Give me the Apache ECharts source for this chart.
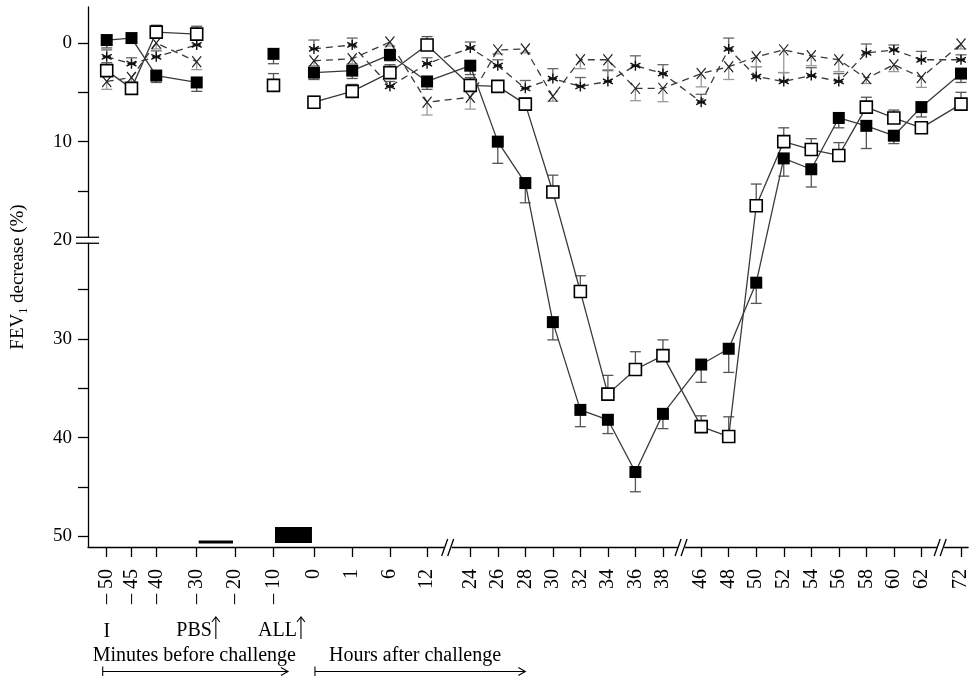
<!DOCTYPE html>
<html>
<head>
<meta charset="utf-8">
<script src="https://cdn.jsdelivr.net/npm/echarts@6/dist/echarts.min.js"></script>
<style>
  html, body { margin: 0; padding: 0; background: #fff; }
  #chart { width: 971px; height: 676px; }
</style>
</head>
<body>
<div id="chart"></div>
<script>
// time points: minutes before challenge (negative), then hours after challenge
const times = ['-50', '-45', '-40', '-30', '-20', '-10', '0', '1', '6', '12', '24', '26', '28', '30',
  '32', '34', '36', '38', '46', '48', '50', '52', '54', '56', '58', '60', '62', '72'];

// FEV1 decrease (%) per group, null = not measured
const filledSq  = [-0.3, -0.5, 3.3, 4.0, null, 1.1, 3.0, 2.8, 1.2, 3.9, 2.3, 10.0, 14.2, 28.3,
  37.2, 38.2, 43.5, 37.6, 32.6, 31.0, 24.3, 11.7, 12.8, 7.6, 8.4, 9.4, 6.5, 3.1];
const filledErr = [0.8, 0.5, 0.7, 0.9, null, 1.0, 0.7, 0.8, 0.6, 0.8, 0.9, 2.2, 2.0, 1.8,
  1.7, 1.4, 2.0, 1.5, 1.8, 2.4, 2.1, 1.8, 1.8, 1.0, 2.3, 0.8, 1.0, 0.9];

const openSq  = [2.8, 4.6, -1.1, -0.9, null, 4.3, 6.0, 4.9, 3.0, 0.2, 4.3, 4.4, 6.2, 15.1,
  25.2, 35.6, 33.1, 31.7, 38.9, 39.9, 16.5, 10.0, 10.8, 11.4, 6.5, 7.6, 8.6, 6.2];
const openErr = [0.8, 0.5, 0.7, 0.8, null, 1.2, 0.6, 0.7, 0.8, 0.85, 0.8, 0.5, 0.6, 1.7,
  1.6, 1.9, 1.8, 1.6, 1.1, 2.0, 2.2, 1.4, 1.1, 1.3, 1.0, 0.8, 0.6, 1.2];

const stars   = [1.4, 2.1, 1.4, 0.2, null, null, 0.6, 0.2, 4.4, 2.1, 0.5, 2.3, 4.6, 3.6,
  4.4, 3.9, 2.3, 3.1, 6.0, 0.6, 3.4, 3.9, 3.3, 3.9, 1.0, 0.7, 1.7, 1.7];
const starErr = [0.7, 0.6, 0.6, 0.6, null, null, 0.9, 0.7, 0.5, 0.6, 0.6, 0.6, 0.8, 1.0,
  0.9, 1.1, 1.0, 0.9, 0.8, 1.1, 1.0, 0.9, 0.8, 0.8, 0.9, 0.5, 0.85, 0.5];

const crosses  = [3.9, 3.5, 0.0, 1.9, null, null, 1.8, 1.6, -0.1, 6.0, 5.5, 0.7, 0.6, 5.4,
  1.7, 1.7, 4.6, 4.6, 3.1, 2.4, 1.4, 0.7, 1.3, 1.7, 3.6, 2.2, 3.5, 0.1];
const crossErr = [0.8, 0.5, 0.6, 0.8, null, null, 0.5, 0.5, 0.4, 1.3, 1.2, 0.4, 0.4, 0.5,
  0.9, 1.0, 1.25, 1.35, 1.35, 1.3, 1.0, 2.3, 1.0, 1.2, 0.5, 0.7, 1.0, 0.5];

const yTicks = [0, 5, 10, 15, 25, 30, 35, 40, 45, 50];
const yLabels = [0, 10, 20, 30, 40, 50];

// lines are not joined across these points
const lineBreakAfter = ['-10'];
// broken axes
const axisBreaks = [['12', '24'], ['38', '46'], ['62', '72']];
const yBreakAt = 20;

// spacing of the (non-linear) x axis, in units of one 2 h step
const tickGaps = [0.9, 0.9, 1.47, 1.39, 1.4, 1.47, 1.39, 1.37, 1.35, 1.57,
  1, 1, 1, 1, 1, 1, 1, 1.39, 1, 1, 1, 1, 1, 1, 1, 1, 1.44];
const xPos = [0];
tickGaps.forEach(g => xPos.push(+(xPos[xPos.length - 1] + g).toFixed(4)));

const FONT = '"Liberation Serif", "DejaVu Serif", serif';
const LINE = '#3a3a3a';

function lineData(vals) {
  const out = [];
  vals.forEach((v, i) => {
    out.push([xPos[i], v == null ? '-' : v]);
    if (lineBreakAfter.includes(times[i])) out.push([xPos[i] + 0.01, '-']);
  });
  return out;
}

function errorBars(vals, errs, dir, color) {
  const data = [];
  vals.forEach((v, i) => {
    if (v != null && errs[i] != null) data.push([xPos[i], v, v + dir * errs[i]]);
  });
  return {
    type: 'custom',
    silent: true,
    z: 1,
    renderItem(params, api) {
      const p0 = api.coord([api.value(0), api.value(1)]);
      const p1 = api.coord([api.value(0), api.value(2)]);
      const st = { stroke: color, lineWidth: 1.3 };
      return {
        type: 'group',
        children: [
          { type: 'line', shape: { x1: p0[0], y1: p0[1], x2: p1[0], y2: p1[1] }, style: st },
          { type: 'line', shape: { x1: p1[0] - 5.5, y1: p1[1], x2: p1[0] + 5.5, y2: p1[1] }, style: st }
        ]
      };
    },
    encode: { x: 0, y: [1, 2] },
    data
  };
}

const STAR = 'path://M5,0L5,10M0.7,2.5L9.3,7.5M0.7,7.5L9.3,2.5M1.5,5L8.5,5';
const CROSS = 'path://M0,0L8,10M0,10L8,0';

const chart = echarts.init(document.getElementById('chart'));

const option = {
  animation: false,
  grid: { left: 88, right: 0, top: 7, bottom: 129 },
  xAxis: {
    type: 'value',
    min: -0.68,
    max: 31.3,
    splitLine: { show: false },
    axisLine: { show: true, onZero: false, lineStyle: { color: '#000', width: 1.3 } },
    axisTick: { show: true, length: 10, customValues: xPos, lineStyle: { color: '#000', width: 1.3 } },
    axisLabel: {
      customValues: xPos,
      rotate: 90,
      margin: 22,
      color: '#000',
      fontFamily: FONT,
      fontSize: 20,
      formatter: v => {
        const i = xPos.findIndex(p => Math.abs(p - v) < 1e-3);
        if (i < 0) return '';
        const t = times[i];
        return t.charAt(0) === '-' ? '\u2013 ' + t.slice(1) : t;
      }
    }
  },
  yAxis: {
    type: 'value',
    inverse: true,
    min: -3.65,
    max: 51.1,
    splitLine: { show: false },
    axisLine: { show: true, onZero: false, lineStyle: { color: '#000', width: 1.3 } },
    axisTick: { show: true, length: 10, customValues: yTicks, lineStyle: { color: '#000', width: 1.3 } },
    axisLabel: { customValues: yLabels, margin: 16, color: '#000', fontFamily: FONT, fontSize: 19 },
    name: '{n|FEV}{s|1}{n| decrease (%)}',
    nameLocation: 'middle',
    nameGap: 58,
    nameTextStyle: {
      color: '#000',
      rich: {
        n: { fontFamily: FONT, fontSize: 19, color: '#000', lineHeight: 24, verticalAlign: 'middle' },
        s: { fontFamily: FONT, fontSize: 12, color: '#000', lineHeight: 24, verticalAlign: 'bottom', padding: [6, 0, 0, 0] }
      }
    }
  },
  series: [
    errorBars(filledSq, filledErr, 1, '#555'),
    errorBars(openSq, openErr, -1, '#555'),
    errorBars(stars, starErr, -1, '#666'),
    errorBars(crosses, crossErr, 1, '#999'),
    {
      name: 'Asterisks', type: 'line', z: 2, data: lineData(stars),
      symbol: STAR, symbolSize: 10, showAllSymbol: true,
      lineStyle: { color: LINE, width: 1.3, type: [7, 5] },
      itemStyle: { color: 'transparent', borderColor: '#111', borderWidth: 1.4 }
    },
    {
      name: 'Crosses', type: 'line', z: 2, data: lineData(crosses),
      symbol: CROSS, symbolSize: [9, 11], showAllSymbol: true,
      lineStyle: { color: LINE, width: 1.3, type: [7, 5] },
      itemStyle: { color: 'transparent', borderColor: '#222', borderWidth: 1.2 }
    },
    {
      name: 'Open squares', type: 'line', z: 3, data: lineData(openSq),
      symbol: 'rect', symbolSize: 12, showAllSymbol: true,
      lineStyle: { color: LINE, width: 1.3 },
      itemStyle: { color: '#fff', borderColor: '#000', borderWidth: 1.6 }
    },
    {
      name: 'Filled squares', type: 'line', z: 4, data: lineData(filledSq),
      symbol: 'rect', symbolSize: 12, showAllSymbol: true,
      lineStyle: { color: LINE, width: 1.3 },
      itemStyle: { color: '#000', borderColor: '#000', borderWidth: 0 }
    }
  ]
};
chart.setOption(option);

// annotations placed from the axes
const tx = label => chart.convertToPixel({ xAxisIndex: 0 }, xPos[times.indexOf(label)]);
const ty = v => chart.convertToPixel({ yAxisIndex: 0 }, v);
const axisX = 88;
const axisY = 676 - 129;
const ink = { stroke: '#000', lineWidth: 1.3 };
const g = [];

// y-axis break
const yb = ty(yBreakAt);
g.push({ type: 'rect', shape: { x: axisX - 3, y: yb - 2.5, width: 6, height: 5 }, style: { fill: '#fff' } });
g.push({ type: 'line', shape: { x1: axisX - 12, y1: yb - 3, x2: axisX + 11, y2: yb - 3 }, style: ink });
g.push({ type: 'line', shape: { x1: axisX - 12, y1: yb + 3, x2: axisX + 11, y2: yb + 3 }, style: ink });

// x-axis breaks
axisBreaks.forEach(([a, b]) => {
  const xm = (tx(a) + tx(b)) / 2;
  g.push({ type: 'rect', shape: { x: xm - 4, y: axisY - 3, width: 7, height: 6 }, style: { fill: '#fff' } });
  g.push({ type: 'line', shape: { x1: xm - 7, y1: axisY + 9, x2: xm - 1, y2: axisY - 8 }, style: ink });
  g.push({ type: 'line', shape: { x1: xm - 1, y1: axisY + 9, x2: xm + 5, y2: axisY - 8 }, style: ink });
});

// PBS (thin) and allergen (thick) exposure bars
g.push({ type: 'rect', shape: { x: tx('-30') + 2, y: axisY - 6.5, width: tx('-20') - tx('-30') - 4, height: 3 },
  style: { fill: '#000' } });
g.push({ type: 'rect', shape: { x: tx('-10') + 1.5, y: axisY - 20, width: tx('0') - tx('-10') - 3.5, height: 16 },
  style: { fill: '#000' } });

// labels under the axis
const txt = (text, x, y, align) => g.push({
  type: 'text', x, y,
  style: { text, fill: '#000', font: '20px ' + FONT, textAlign: align, textVerticalAlign: 'middle' }
});
const upArrow = x => {
  g.push({ type: 'line', shape: { x1: x, y1: 639, x2: x, y2: 617 }, style: { stroke: '#000', lineWidth: 1.1 } });
  g.push({ type: 'polyline', shape: { points: [[x - 4, 622], [x, 617], [x + 4, 622]] },
    style: { stroke: '#000', lineWidth: 1.1, fill: null } });
};
const rightArrow = (x1, x2, y) => {
  g.push({ type: 'line', shape: { x1, y1: y, x2, y2: y }, style: { stroke: '#000', lineWidth: 1.1 } });
  g.push({ type: 'line', shape: { x1, y1: y - 5, x2: x1, y2: y + 5 }, style: { stroke: '#000', lineWidth: 1.1 } });
  g.push({ type: 'polyline', shape: { points: [[x2 - 7, y - 4], [x2, y], [x2 - 7, y + 4]] },
    style: { stroke: '#000', lineWidth: 1.1, fill: null } });
};

txt('I', tx('-50'), 632, 'center');
const pbsX = (tx('-30') + tx('-20')) / 2;
txt('PBS', pbsX - 4, 631, 'right');
upArrow(pbsX);
const allX = tx('0') - 13;
txt('ALL', allX - 4, 631, 'right');
upArrow(allX);
txt('Minutes before challenge', tx('-50') - 14, 656, 'left');
txt('Hours after challenge', tx('0') + 15, 656, 'left');
rightArrow(tx('-50') - 4, tx('0') - 26, 671.5);
rightArrow(tx('0') + 1, tx('28'), 671.5);

chart.setOption({ graphic: { elements: g.map(e => Object.assign({ z: 100, silent: true }, e)) } });
</script>
</body>
</html>
